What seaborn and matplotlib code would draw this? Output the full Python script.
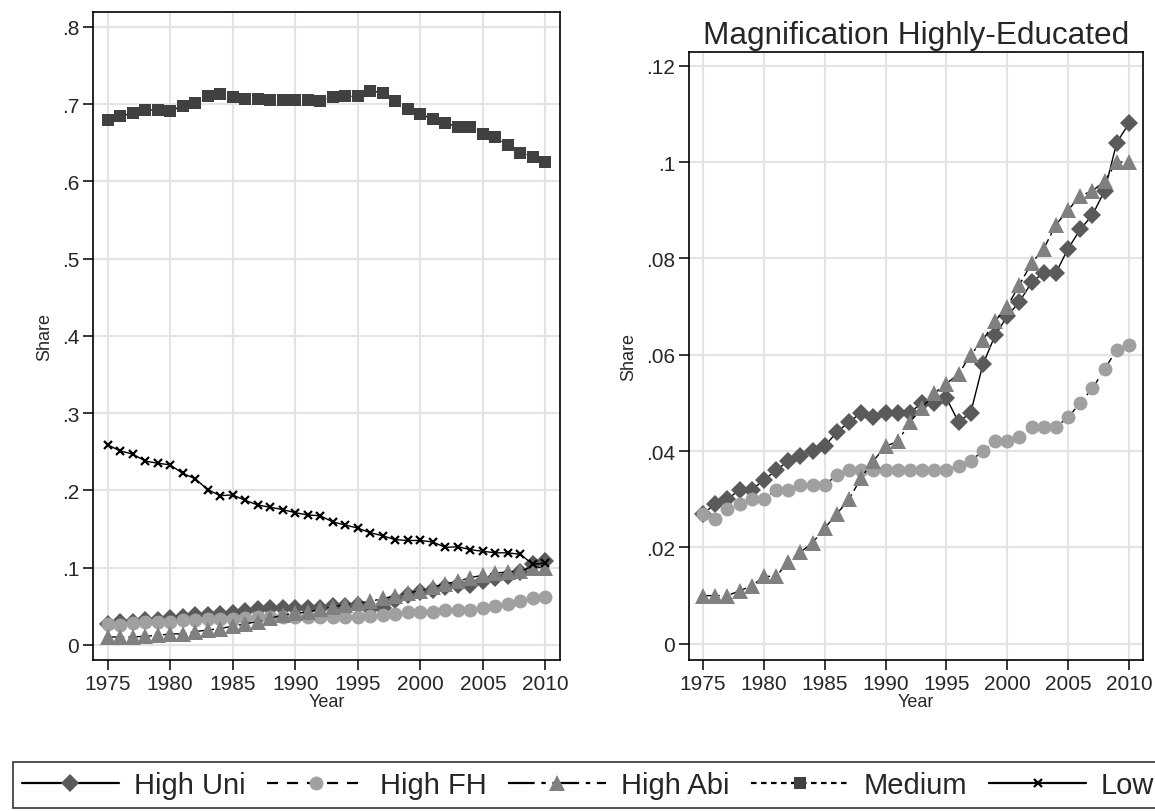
import numpy as np
import pandas as pd
import matplotlib
matplotlib.use("Agg")
import matplotlib.pyplot as plt
from matplotlib.lines import Line2D
import seaborn as sns

years = list(range(1975, 2011))

high_uni = [.027, .029, .030, .032, .032, .034, .036, .038, .039, .040,
            .041, .044, .046, .048, .047, .048, .048, .048, .050, .050,
            .051, .046, .048, .058, .064, .068, .071, .075, .077, .077,
            .082, .086, .089, .094, .104, .108]
high_fh = [.027, .026, .028, .029, .030, .030, .032, .032, .033, .033,
           .033, .035, .036, .036, .036, .036, .036, .036, .036, .036,
           .036, .037, .038, .040, .042, .042, .043, .045, .045, .045,
           .047, .050, .053, .057, .061, .062]
high_abi = [.010, .010, .010, .011, .012, .014, .014, .017, .019, .021,
            .024, .027, .030, .0345, .038, .041, .042, .046, .049, .052,
            .054, .056, .060, .063, .067, .070, .0745, .079, .082, .087,
            .090, .093, .094, .096, .100, .100]
medium = [.679, .685, .688, .692, .693, .691, .698, .701, .710, .713,
          .709, .707, .707, .706, .706, .706, .706, .704, .709, .710,
          .710, .717, .715, .704, .694, .687, .681, .676, .670, .670,
          .662, .657, .647, .637, .632, .625]
low = [.259, .251, .247, .238, .235, .233, .222, .215, .201, .193,
       .194, .187, .181, .178, .175, .171, .168, .167, .159, .155,
       .151, .145, .141, .136, .135, .135, .133, .126, .127, .123,
       .121, .119, .119, .117, .104, .106]

series_names = ["High Uni", "High FH", "High Abi", "Medium", "Low"]
x_ticks = [1975, 1980, 1985, 1990, 1995, 2000, 2005, 2010]
left_yticks = [0, .1, .2, .3, .4, .5, .6, .7, .8]
left_ylabels = ["0", ".1", ".2", ".3", ".4", ".5", ".6", ".7", ".8"]
right_yticks = [0, .02, .04, .06, .08, .1, .12]
right_ylabels = ["0", ".02", ".04", ".06", ".08", ".1", ".12"]
title_right = "Magnification Highly-Educated"

sns.set_style("white")
plt.rcParams["font.family"] = ["Liberation Sans", "DejaVu Sans"]

styles = {
    "High Uni": dict(linestyle="-", marker="D", markerfacecolor="#5a5a5a",
                     markeredgewidth=0, markersize=9),
    "High FH": dict(linestyle=(0, (5, 4)), marker="o", markerfacecolor="#a0a0a0",
                    markeredgewidth=0, markersize=10),
    "High Abi": dict(linestyle=(0, (12, 3, 2, 3)), marker="^", markerfacecolor="#808080",
                     markeredgewidth=0, markersize=11),
    "Medium": dict(linestyle=(0, (2.5, 2)), marker="s", markerfacecolor="#404040",
                   markeredgewidth=0, markersize=8.7),
    "Low": dict(linestyle="-", marker="x", markerfacecolor="black",
                markeredgecolor="black", markeredgewidth=1.6, markersize=6),
}
values = {"High Uni": high_uni, "High FH": high_fh, "High Abi": high_abi,
          "Medium": medium, "Low": low}

fig = plt.figure(figsize=(11.55, 8.12), dpi=100)
ax1 = fig.add_axes([93/1155, 1-660.7/812, (560-93)/1155, (660.7-13)/812])
ax2 = fig.add_axes([689/1155, 1-660.7/812, (1143-689)/1155, (660.7-52.7)/812])


def draw(ax, names):
    for n in names:
        st = dict(styles[n])
        sns.lineplot(x=years, y=values[n], ax=ax, color="black", linewidth=1.0,
                     **st)


draw(ax1, series_names)
draw(ax2, ["High Uni", "High FH", "High Abi"])

for ax, yt, yl, ylim in [(ax1, left_yticks, left_ylabels, (-0.0194, 0.8194)),
                         (ax2, right_yticks, right_ylabels, (-0.0033, 0.1229))]:
    ax.set_xlim(1973.84, 2011.16)
    ax.set_ylim(*ylim)
    ax.set_xticks(x_ticks)
    ax.set_xticklabels([str(t) for t in x_ticks])
    ax.set_yticks(yt)
    ax.set_yticklabels(yl)
    ax.grid(True, color="#e3e3e3", linewidth=1.5)
    ax.set_axisbelow(True)
    for s in ax.spines.values():
        s.set_visible(True)
        s.set_color("black")
        s.set_linewidth(1.2)
    ax.tick_params(axis="both", direction="out", length=7, width=1.1,
                   labelsize=15, color="black", bottom=True, left=True, pad=3)
    ax.set_xlabel("Year", fontsize=13, labelpad=0)
    ax.set_ylabel("Share", fontsize=13, labelpad=6)

ax2.set_title(title_right, fontsize=22.7, pad=6)

handles = []
for n in series_names:
    st = dict(styles[n])
    handles.append(Line2D([], [], color="black", linewidth=1.6, **st))

leg = fig.legend(handles, series_names, loc="center",
                 bbox_to_anchor=(588/1155, 1-786/812), ncol=5, fontsize=21,
                 frameon=True, fancybox=False, edgecolor="black",
                 handlelength=3.35, handletextpad=0.5, columnspacing=0.75,
                 borderpad=0.3, borderaxespad=0)
leg.get_frame().set_linewidth(1.2)

fig.savefig("out.png", dpi=100)
